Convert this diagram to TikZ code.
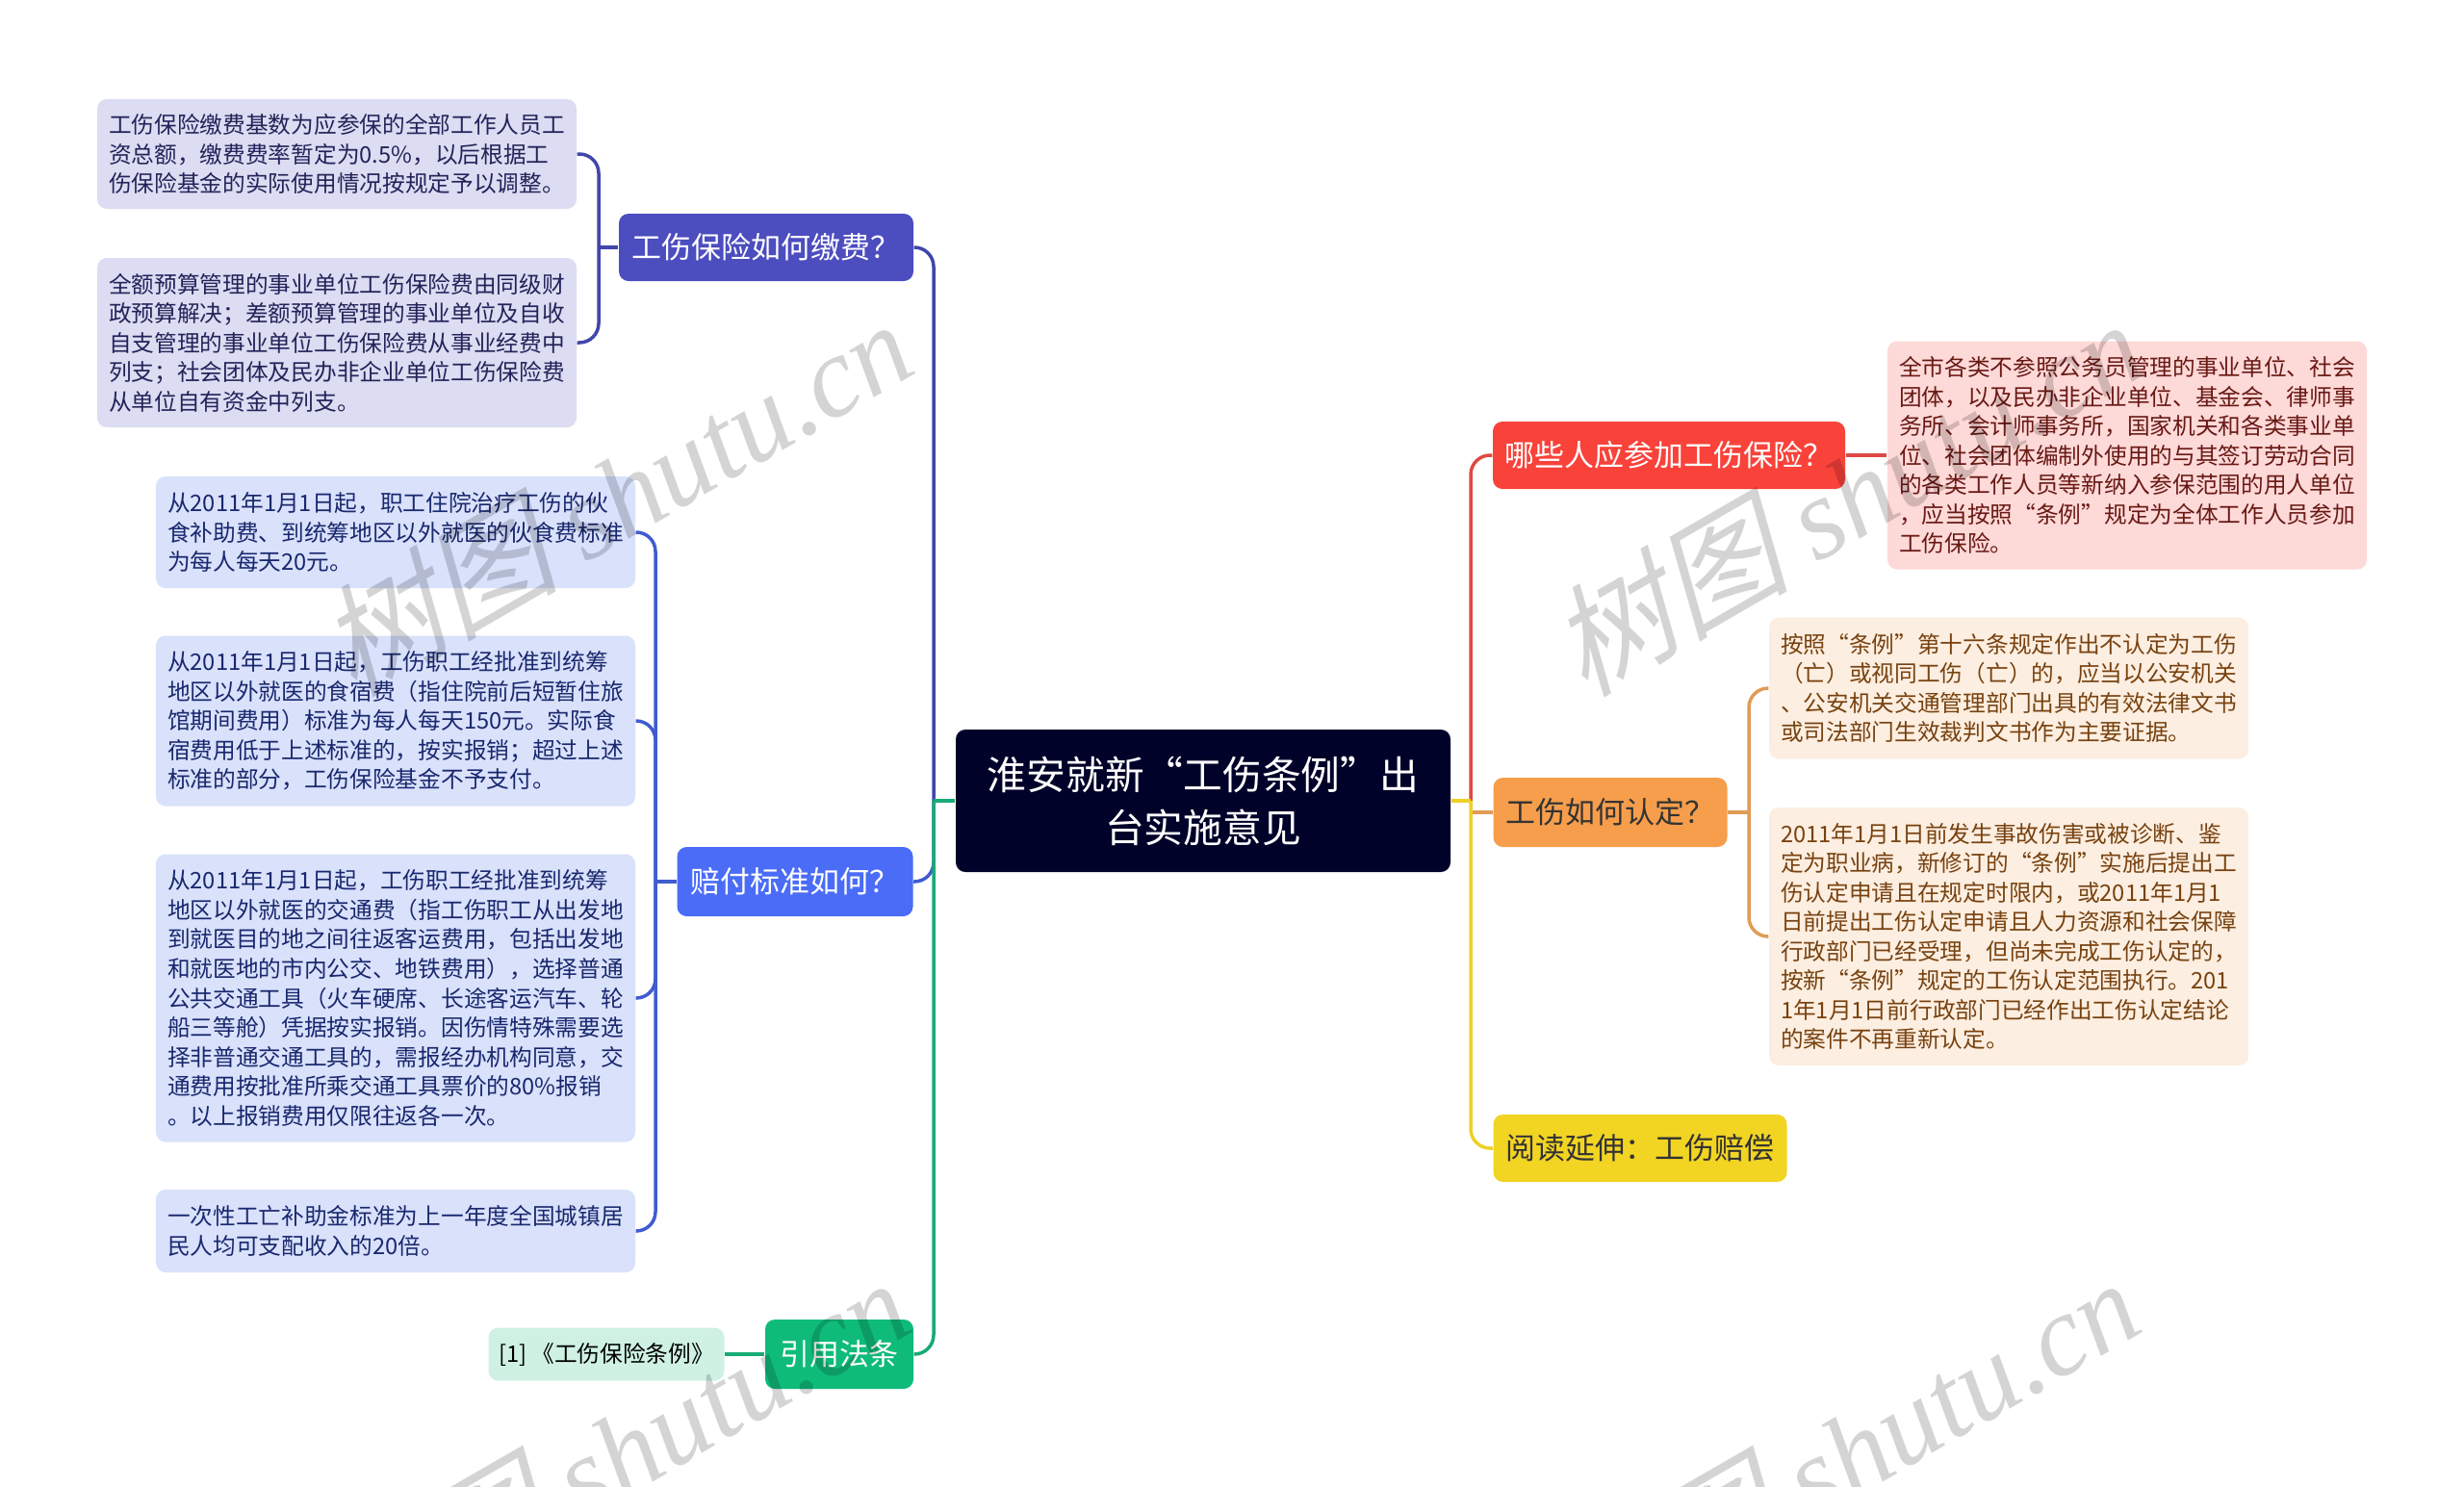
\documentclass[tikz,border=0pt]{standalone}
\usepackage{fontspec}
\setmainfont{Noto Sans CJK SC}
\newfontfamily\markcjk[FakeSlant=0.25,Scale=1.05]{Noto Sans CJK SC}
\newfontfamily\marklatin{Liberation Serif}
\usetikzlibrary{
    calc
}
\newcommand{\zdou}{\symbol{"FF0C}}
\newcommand{\zfen}{\symbol{"FF1B}}
\newcommand{\zkl}{\symbol{"FF08}}
\newcommand{\zkr}{\symbol{"FF09}}
\newcommand{\zwen}{\symbol{"FF1F}}
\newcommand{\zmao}{\symbol{"FF1A}}
\definecolor{rootnavy}{RGB}{0, 2, 41}
\definecolor{paypurple}{RGB}{76, 77, 191}
\definecolor{payline}{RGB}{66, 70, 170}
\definecolor{paytint}{RGB}{220, 220, 242}
\definecolor{paytext}{RGB}{35, 35, 90}
\definecolor{compblue}{RGB}{74, 108, 247}
\definecolor{compline}{RGB}{64, 92, 208}
\definecolor{comptint}{RGB}{217, 225, 251}
\definecolor{comptext}{RGB}{25, 40, 110}
\definecolor{lawgreen}{RGB}{15, 187, 121}
\definecolor{lawline}{RGB}{24, 171, 117}
\definecolor{lawtint}{RGB}{207, 241, 227}
\definecolor{whored}{RGB}{249, 66, 58}
\definecolor{wholine}{RGB}{222, 74, 67}
\definecolor{whotint}{RGB}{253, 217, 216}
\definecolor{whotext}{RGB}{105, 25, 20}
\definecolor{judgeorange}{RGB}{246, 158, 76}
\definecolor{judgeline}{RGB}{224, 155, 85}
\definecolor{judgetint}{RGB}{252, 238, 224}
\definecolor{judgetext}{RGB}{120, 66, 16}
\definecolor{readyellow}{RGB}{242, 212, 35}
\definecolor{readline}{RGB}{238, 208, 39}

\begin{document}
\begin{tikzpicture}[
        root/.style={rectangle, rounded corners=0.1cm, fill=rootnavy, text=white, align=center, inner sep=0pt, font=\fontsize{11.6}{15.6}\selectfont},
        topic/.style={rectangle, rounded corners=0.1cm, inner sep=0pt, font=\fontsize{8.8}{11}\selectfont},
        leaf/.style={rectangle, rounded corners=0.1cm, align=left, inner sep=0pt, minimum width=4.98cm, font=\fontsize{6.74}{8.68}\selectfont},
        link/.style={line width=0.035cm, rounded corners=0.2cm},
        stamp/.style={opacity=0.17, rotate=30, inner sep=0pt, font=\fontsize{34}{34}\selectfont}
    ]
        \useasboundingbox (0,0) rectangle (25.6,-15.44);

        % Centre
        \node[root, minimum width=5.14cm, minimum height=1.48cm] (centre) at (12.50,-8.32) {淮安就新“工伤条例”出\\台实施意见};

        % Left topics
        \node[topic, fill=paypurple, text=white, minimum width=3.06cm, minimum height=0.70cm] (pay) at (7.96,-2.57) {工伤保险如何缴费\zwen};
        \node[topic, fill=compblue, text=white, minimum width=2.45cm, minimum height=0.72cm] (comp) at (8.26,-9.16) {赔付标准如何\zwen};
        \node[topic, fill=lawgreen, text=white, minimum width=1.54cm, minimum height=0.72cm] (law) at (8.72,-14.07) {引用法条};

        % Left details
        \node[leaf, fill=paytint, text=paytext, minimum height=1.14cm] (pay_a) at (3.50,-1.60) {工伤保险缴费基数为应参保的全部工作人员工\\资总额\zdou 缴费费率暂定为0.5\%\zdou 以后根据工\\伤保险基金的实际使用情况按规定予以调整。};
        \node[leaf, fill=paytint, text=paytext, minimum height=1.76cm] (pay_b) at (3.50,-3.56) {全额预算管理的事业单位工伤保险费由同级财\\政预算解决\zfen 差额预算管理的事业单位及自收\\自支管理的事业单位工伤保险费从事业经费中\\列支\zfen 社会团体及民办非企业单位工伤保险费\\从单位自有资金中列支。};
        \node[leaf, fill=comptint, text=comptext, minimum height=1.16cm] (comp_a) at (4.11,-5.53) {从2011年1月1日起\zdou 职工住院治疗工伤的伙\\食补助费、到统筹地区以外就医的伙食费标准\\为每人每天20元。};
        \node[leaf, fill=comptint, text=comptext, minimum height=1.77cm] (comp_b) at (4.11,-7.49) {从2011年1月1日起\zdou 工伤职工经批准到统筹\\地区以外就医的食宿费\zkl 指住院前后短暂住旅\\馆期间费用\zkr 标准为每人每天150元。实际食\\宿费用低于上述标准的\zdou 按实报销\zfen 超过上述\\标准的部分\zdou 工伤保险基金不予支付。};
        \node[leaf, fill=comptint, text=comptext, minimum height=2.99cm] (comp_c) at (4.11,-10.37) {从2011年1月1日起\zdou 工伤职工经批准到统筹\\地区以外就医的交通费\zkl 指工伤职工从出发地\\到就医目的地之间往返客运费用\zdou 包括出发地\\和就医地的市内公交、地铁费用\zkr\zdou 选择普通\\公共交通工具\zkl 火车硬席、长途客运汽车、轮\\船三等舱\zkr 凭据按实报销。因伤情特殊需要选\\择非普通交通工具的\zdou 需报经办机构同意\zdou 交\\通费用按批准所乘交通工具票价的80\%报销\\。以上报销费用仅限往返各一次。};
        \node[leaf, fill=comptint, text=comptext, minimum height=0.86cm] (comp_d) at (4.11,-12.79) {一次性工亡补助金标准为上一年度全国城镇居\\民人均可支配收入的20倍。};
        \node[leaf, fill=lawtint, text=black, minimum width=2.45cm, minimum height=0.55cm] (law_a) at (6.30,-14.07) {[1] 《工伤保险条例》};

        % Right topics
        \node[topic, fill=whored, text=white, minimum width=3.66cm, minimum height=0.70cm] (who) at (17.34,-4.73) {哪些人应参加工伤保险\zwen};
        \node[topic, fill=judgeorange, text=black!80, minimum width=2.43cm, minimum height=0.72cm] (judge) at (16.73,-8.44) {工伤如何认定\zwen};
        \node[topic, fill=readyellow, text=black!80, minimum width=3.05cm, minimum height=0.70cm] (read) at (17.04,-11.93) {阅读延伸\zmao 工伤赔偿};

        % Right details
        \node[leaf, fill=whotint, text=whotext, minimum height=2.37cm] (who_a) at (22.10,-4.73) {全市各类不参照公务员管理的事业单位、社会\\团体\zdou 以及民办非企业单位、基金会、律师事\\务所、会计师事务所\zdou 国家机关和各类事业单\\位、社会团体编制外使用的与其签订劳动合同\\的各类工作人员等新纳入参保范围的用人单位\\\zdou 应当按照“条例”规定为全体工作人员参加\\工伤保险。};
        \node[leaf, fill=judgetint, text=judgetext, minimum height=1.47cm] (judge_a) at (20.87,-7.15) {按照“条例”第十六条规定作出不认定为工伤\\\zkl 亡\zkr 或视同工伤\zkl 亡\zkr 的\zdou 应当以公安机关\\、公安机关交通管理部门出具的有效法律文书\\或司法部门生效裁判文书作为主要证据。};
        \node[leaf, fill=judgetint, text=judgetext, minimum height=2.68cm] (judge_b) at (20.87,-9.73) {2011年1月1日前发生事故伤害或被诊断、鉴\\定为职业病\zdou 新修订的“条例”实施后提出工\\伤认定申请且在规定时限内\zdou 或2011年1月1\\日前提出工伤认定申请且人力资源和社会保障\\行政部门已经受理\zdou 但尚未完成工伤认定的\zdou\\按新“条例”规定的工伤认定范围执行。201\\1年1月1日前行政部门已经作出工伤认定结论\\的案件不再重新认定。};

        % Junctions
        \coordinate (lefttrunk) at (9.70,-8.32);
        \coordinate (righttrunk) at (15.28,-8.32);
        \coordinate (payfork) at (6.22,-2.57);
        \coordinate (compfork) at (6.81,-9.16);
        \coordinate (judgefork) at (18.17,-8.44);

        % Left links
        \draw[link, payline] (pay.east) -| (lefttrunk);
        \draw[link, compline] (comp.east) -| (lefttrunk);
        \draw[link, lawline] (law.east) -| (lefttrunk);
        \draw[link, lawline] (lefttrunk) -- (centre.west);

        \draw[link, payline] (pay_a.east) -| (payfork);
        \draw[link, payline] (pay_b.east) -| (payfork);
        \draw[link, payline] (payfork) -- (pay.west);

        \draw[link, compline] (comp_a.east) -| (compfork);
        \draw[link, compline] (comp_b.east) -| (compfork);
        \draw[link, compline] (comp_c.east) -| (compfork);
        \draw[link, compline] (comp_d.east) -| (compfork);
        \draw[link, compline] (compfork) -- (comp.west);

        \draw[link, lawline] (law_a.east) -- (law.west);

        % Right links
        \draw[link, wholine] (who.west) -| (righttrunk);
        \draw[link, judgeline] (judge.west) -- (judge.west -| righttrunk);
        \draw[link, readline] (read.west) -| (righttrunk);
        \draw[link, readline] (righttrunk) -- (centre.east);

        \draw[link, wholine] (who.east) -- (who_a.west);

        \draw[link, judgeline] (judge_a.west) -| (judgefork);
        \draw[link, judgeline] (judge_b.west) -| (judgefork);
        \draw[link, judgeline] (judgefork) -- (judge.east);

        % Watermarks
        \node[stamp] (stamp_a) at (6.38,-5.14) {\markcjk 树图 \marklatin\itshape shutu.cn};
        \node[stamp] (stamp_b) at (19.17,-5.14) {\markcjk 树图 \marklatin\itshape shutu.cn};
        \node[stamp] (stamp_c) at (6.35,-15.10) {\markcjk 树图 \marklatin\itshape shutu.cn};
        \node[stamp] (stamp_d) at (19.13,-15.10) {\markcjk 树图 \marklatin\itshape shutu.cn};
    \end{tikzpicture}
\end{document}
